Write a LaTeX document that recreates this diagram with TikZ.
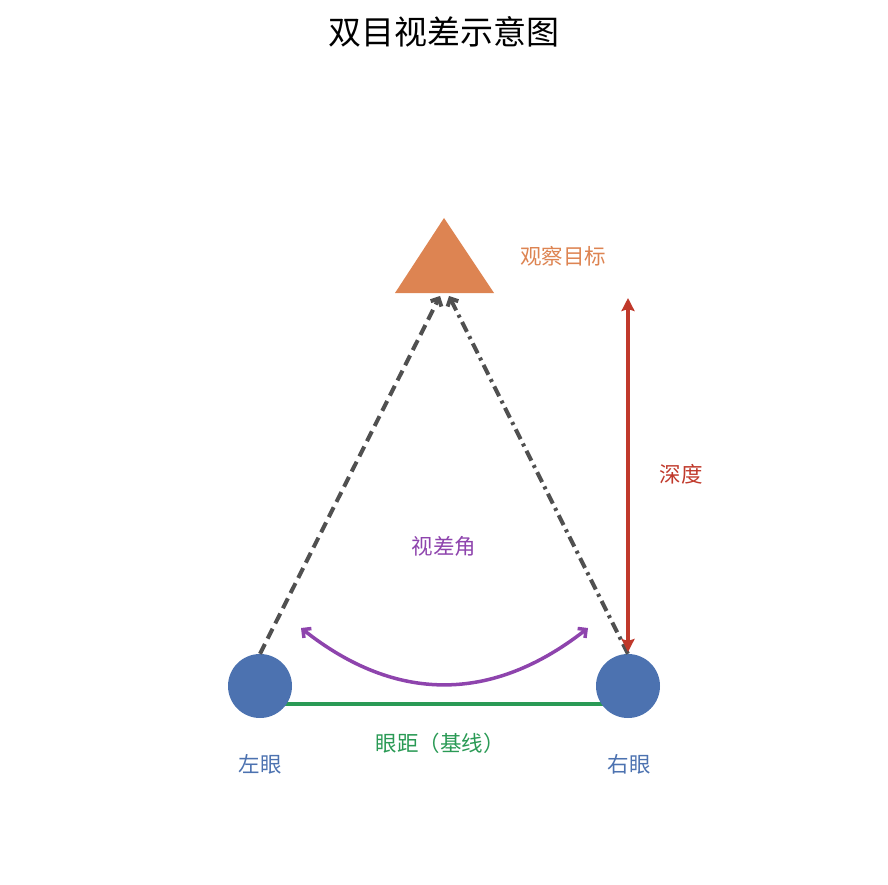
\documentclass[tikz,border=0pt]{standalone}
\usepackage{fontspec}
\setmainfont{Noto Sans CJK SC}
\usetikzlibrary{arrows.meta}
\definecolor{eyeblue}{HTML}{4C72B0}
\definecolor{targetorange}{HTML}{DD8452}
\definecolor{depthred}{HTML}{C0392B}
\definecolor{basegreen}{HTML}{2A9A55}
\definecolor{anglepurple}{HTML}{8E44AD}
\definecolor{sightgray}{HTML}{505050}
\tikzset{
	eyestyle/.style={circle, fill=eyeblue, minimum size=64pt, inner sep=0pt},
	labelstyle/.style={font=\fontsize{21.5}{26}\selectfont},
	sightstyle/.style={draw=sightgray, line width=4pt, -{Straight Barb[length=6pt,width=12pt]}}
}

\begin{document}
\begin{tikzpicture}[x=1pt, y=-1pt]
	\useasboundingbox (0,0) rectangle (888,885);
	\node[font=\fontsize{33}{40}\selectfont] (title) at (444,32) {双目视差示意图};
	% target
	\fill[targetorange] (444,218) -- (494,293) -- (395,293) -- cycle;
	\coordinate (tgtl) at (440,296);
	\coordinate (tgtr) at (449,296);
	\node[labelstyle, text=targetorange] (tgtlabel) at (563,256) {观察目标};
	% baseline behind the eyes
	\coordinate (basel) at (270,704);
	\coordinate (baser) at (618,704);
	\draw[basegreen, line width=4.5pt] (basel)--(baser);
	\node[eyestyle] (leye) at (260,686) {};
	\node[eyestyle] (reye) at (628,686) {};
	\node[labelstyle, text=eyeblue] (llabel) at (260,764) {左眼};
	\node[labelstyle, text=eyeblue] (rlabel) at (629,764) {右眼};
	\node[labelstyle, text=basegreen] (baselabel) at (440,743) {眼距（基线）};
	% lines of sight
	\draw[sightstyle, dash pattern=on 11pt off 6pt] (leye.north)--(tgtl);
	\draw[sightstyle, dash pattern=on 11pt off 5pt on 3pt off 5pt] (reye.north)--(tgtr);
	% depth
	\coordinate (dtop) at (628,298);
	\coordinate (dbot) at (628,652);
	\draw[depthred, line width=3.5pt, {Stealth[length=13pt,width=13pt,inset=2pt]}-{Stealth[length=13pt,width=13pt,inset=2pt]}] (dtop)--(dbot);
	\node[labelstyle, text=depthred] (depthlabel) at (681,474) {深度};
	% parallax angle
	\coordinate (al) at (301,628);
	\coordinate (ar) at (588,628);
	\draw[anglepurple, line width=3.5pt, {Straight Barb[length=6pt,width=12pt]}-{Straight Barb[length=6pt,width=12pt]}] (al) .. controls (396,703) and (492,703) .. (ar);
	\node[labelstyle, text=anglepurple] (anglelabel) at (444,546) {视差角};
\end{tikzpicture}
\end{document}
